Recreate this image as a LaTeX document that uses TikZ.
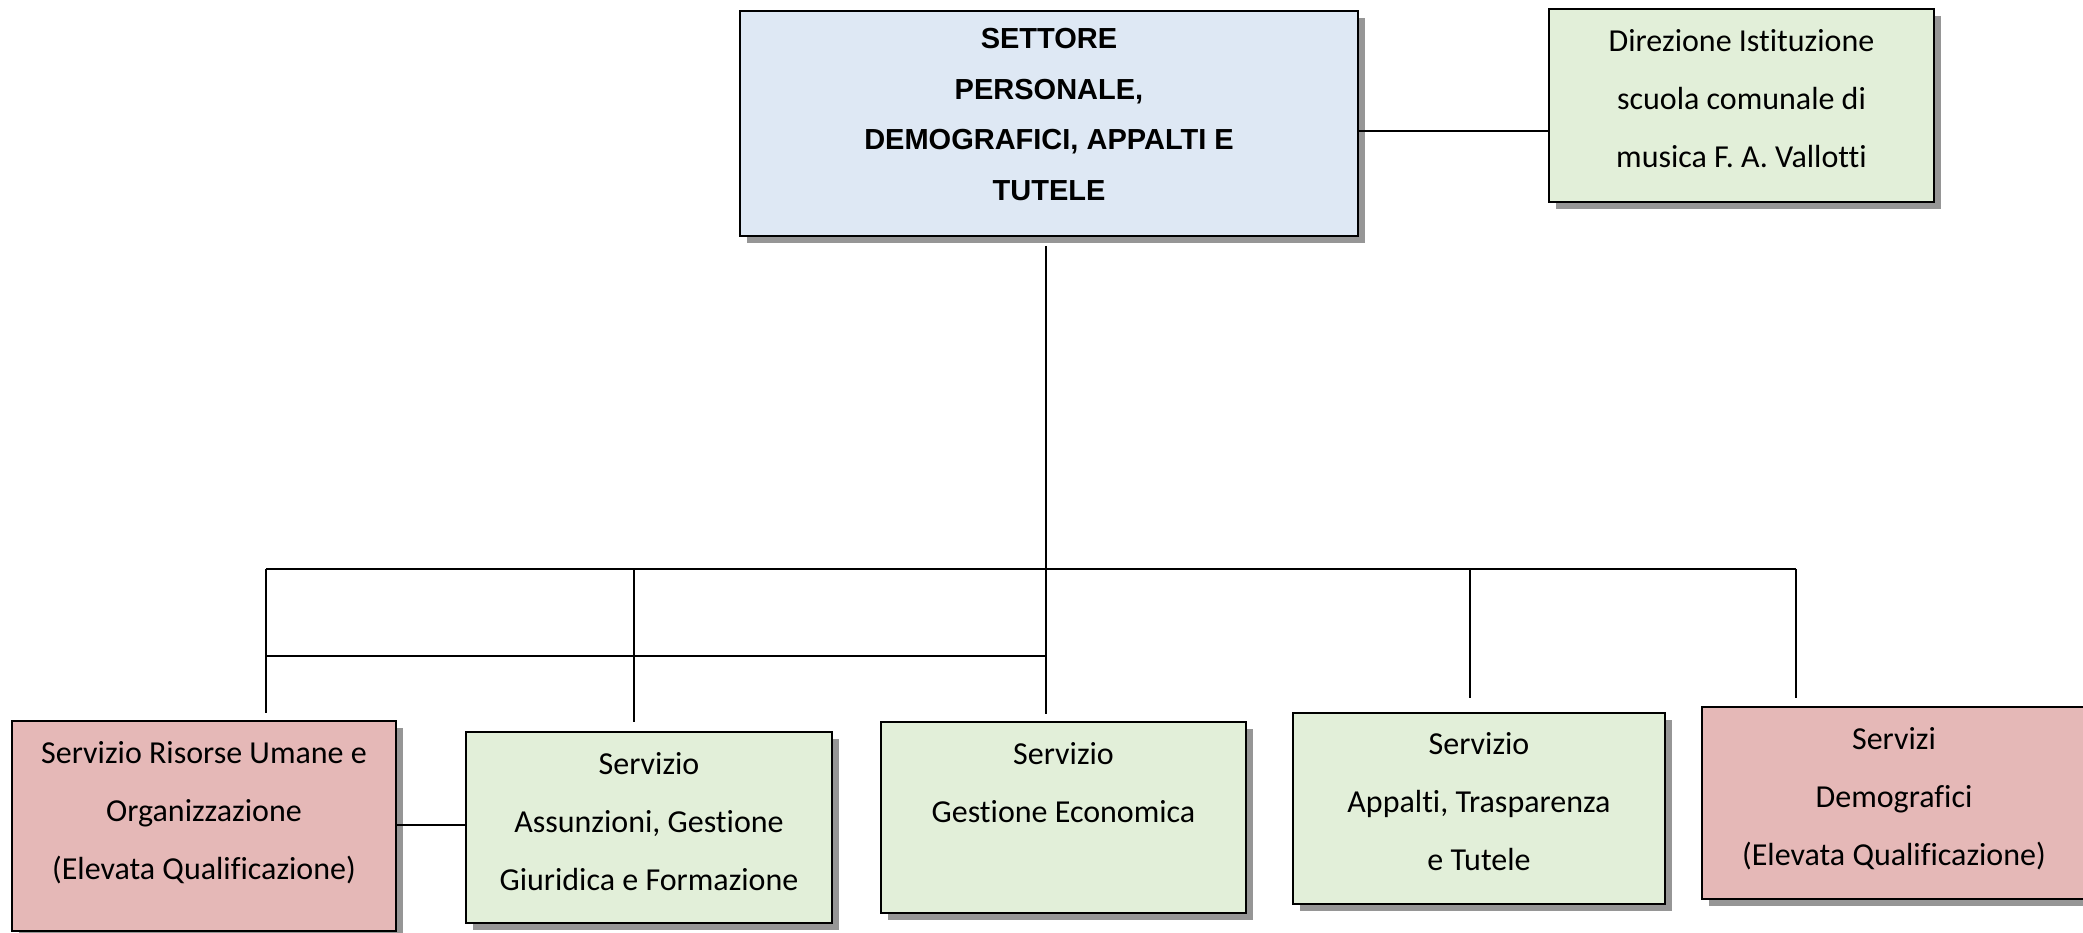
\documentclass[tikz,border=0pt]{standalone}
\usepackage{fontspec}
\setmainfont{Carlito}[Ligatures=NoCommon]
\newfontfamily\arialf{Liberation Sans}
\usetikzlibrary{shadows}
\definecolor{bluefill}{HTML}{DEE8F4}
\definecolor{greenfill}{HTML}{E2EFD9}
\definecolor{pinkfill}{HTML}{E5B8B7}
\definecolor{shadowgray}{RGB}{150,150,150}
\newcommand\cstr{\rule[-18.7pt]{0pt}{58pt}}
\newcommand\astr{\rule[-14.9pt]{0pt}{50.7pt}}
\begin{document}
\begin{tikzpicture}[x=1pt,y=-1pt,
  orgbox/.style={draw=black, line width=2.6pt, inner sep=0pt,
    drop shadow={shadow xshift=7pt, shadow yshift=-7pt, fill=shadowgray, opacity=1}},
  lbl/.style={align=center, inner sep=0pt, font=\fontsize{32}{58}\selectfont},
  hlbl/.style={align=center, inner sep=0pt, font=\arialf\bfseries\fontsize{29}{50.7}\selectfont},
  conn/.style={line width=1.6pt, draw=black}]
\useasboundingbox (0,0) rectangle (2083,933);
\clip (0,0) rectangle (2083,933);

% boxes
\node[orgbox, fill=bluefill, minimum width=618pt, minimum height=225pt] (set) at (1049,123.5) {};
\node[orgbox, fill=greenfill, minimum width=385pt, minimum height=193pt] (dir) at (1741.5,105.5) {};
\node[orgbox, fill=pinkfill, minimum width=384pt, minimum height=210pt] (ru) at (204,826) {};
\node[orgbox, fill=greenfill, minimum width=366pt, minimum height=191pt] (as) at (649,827.5) {};
\node[orgbox, fill=greenfill, minimum width=365pt, minimum height=191pt] (ge) at (1063.5,817.5) {};
\node[orgbox, fill=greenfill, minimum width=372pt, minimum height=191pt] (ap) at (1479,808.5) {};
\node[orgbox, fill=pinkfill, minimum width=384pt, minimum height=192pt] (de) at (1894,803) {};

% texts
\node[hlbl] (settxt) at (1049,114) {\astr SETTORE\\\astr PERSONALE,\\\astr DEMOGRAFICI, APPALTI E\\\astr TUTELE};
\node[lbl] (dirtxt) at (1741.5,99.5) {\cstr Direzione Istituzione\\\cstr scuola comunale di\\\cstr musica F. A. Vallotti};
\node[lbl] (rutxt) at (204,811.5) {\cstr Servizio Risorse Umane e\\\cstr Organizzazione\\\cstr (Elevata Qualificazione)};
\node[lbl] (astxt) at (649,822.5) {\cstr Servizio\\\cstr Assunzioni, Gestione\\\cstr Giuridica e Formazione};
\node[lbl] (getxt) at (1063.5,783) {\cstr Servizio\\\cstr Gestione Economica};
\node[lbl] (aptxt) at (1479,802.5) {\cstr Servizio\\\cstr Appalti, Trasparenza\\\cstr e Tutele};
\node[lbl] (detxt) at (1894,797.5) {\cstr Servizi\\\cstr Demografici\\\cstr (Elevata Qualificazione)};

% connector coordinates
\coordinate (ly) at (0,131);
\coordinate (ry) at (0,825);
\coordinate (t0) at (1046,246);
\coordinate (t1) at (1046,714);
\coordinate (b1) at (266,569);
\coordinate (b2) at (634,569);
\coordinate (b4) at (1470,569);
\coordinate (b5) at (1796,569);
\coordinate (m1) at (266,656);
\coordinate (m3) at (1046,656);
\coordinate (e1) at (266,713);
\coordinate (e2) at (634,722);
\coordinate (e4) at (1470,698);
\coordinate (e5) at (1796,698);

% connectors
\draw[conn] (set.east |- ly) -- (dir.west |- ly);
\draw[conn] (t0) -- (t1);
\draw[conn] (b1) -- (b5);
\draw[conn] (m1) -- (m3);
\draw[conn] (b1) -- (e1);
\draw[conn] (b2) -- (e2);
\draw[conn] (b4) -- (e4);
\draw[conn] (b5) -- (e5);
\draw[conn] (ru.east |- ry) -- (as.west |- ry);
\end{tikzpicture}
\end{document}
